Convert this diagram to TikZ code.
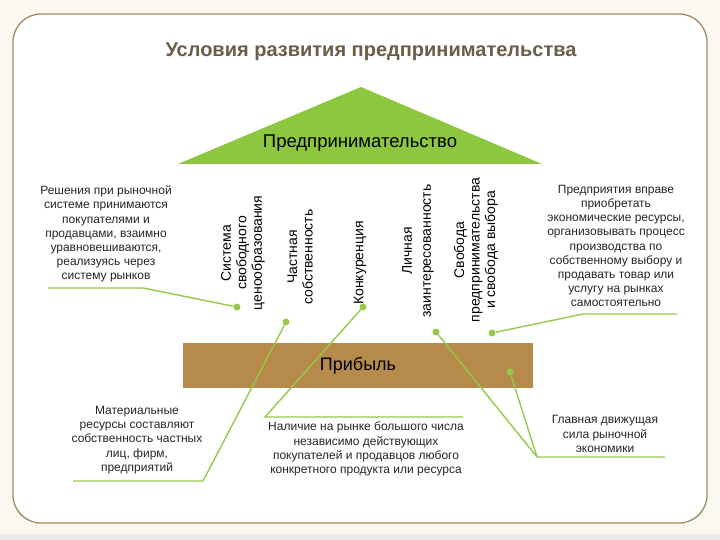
\documentclass[tikz,border=0pt]{standalone}
\usepackage{fontspec}
\setmainfont{Liberation Sans}
\usetikzlibrary{positioning}

\definecolor{leafgreen}{HTML}{8DC63F}
\definecolor{linegreen}{HTML}{96C94A}
\definecolor{barbrown}{HTML}{B58A4B}
\definecolor{framebrown}{HTML}{A08860}
\definecolor{titlegray}{HTML}{6B5D48}
\definecolor{cream}{HTML}{FCF8EF}

\begin{document}
\begin{tikzpicture}[
  x=1pt, y=-1pt,
  note/.style={align=center, inner sep=0pt, text=black!85, font=\fontsize{12}{14.2}\selectfont},
  vlab/.style={rotate=90, align=center, inner sep=0pt, font=\fontsize{14}{15.5}\selectfont},
  dot/.style={circle, fill=linegreen, inner sep=0pt, minimum size=7pt},
  conn/.style={linegreen, line width=1.4pt}
]

% page and frame
\fill[cream] (0,0) rectangle (720,540);
\fill[black!8] (0,534) rectangle (720,540);
\draw[framebrown, line width=1.3pt, rounded corners=28pt, fill=white] (13,14) rectangle (707,523);

\node[font=\fontsize{20}{22}\selectfont\bfseries, text=titlegray] (title) at (371,52) {Условия развития предпринимательства};

% roof
\coordinate (apex) at (361,87);
\coordinate (roofR) at (542,164);
\coordinate (roofL) at (178,164);
\fill[leafgreen] (apex) -- (roofR) -- (roofL) -- cycle;
\node[font=\fontsize{18.5}{20}\selectfont] (entre) at (360,143) {Предпринимательство};

% base
\node[fill=barbrown, minimum width=350pt, minimum height=45pt, inner sep=0pt,
  font=\fontsize{18}{20}\selectfont] (profit) at (358,365.5) {Прибыль};

% pillars
\node[vlab] (sys) at (243,253) {Система\\свободного\\ценообразования};
\node[vlab] (priv) at (300,257) {Частная\\собственность};
\node[vlab] (comp) at (360,263) {Конкуренция};
\node[vlab, font=\fontsize{14}{19}\selectfont] (pers) at (418,251) {Личная\\заинтересованность};
\node[vlab] (free) at (476,250) {Свобода\\предпринимательства\\и свобода выбора};

% notes
\node[note] (decide) at (106,234) {Решения при рыночной\\системе принимаются\\покупателями и\\продавцами, взаимно\\уравновешиваются,\\реализуясь через\\систему рынков};
\node[note] (firms) at (616,246) {Предприятия вправе\\приобретать\\экономические ресурсы,\\организовывать процесс\\производства по\\собственному выбору и\\продавать товар или\\услугу на рынках\\самостоятельно};
\node[note] (assets) at (137,440) {Материальные\\ресурсы составляют\\собственность частных\\лиц, фирм,\\предприятий};
\node[note] (market) at (366,449) {Наличие на рынке большого числа\\независимо действующих\\покупателей и продавцов любого\\конкретного продукта или ресурса};
\node[note] (force) at (605,434) {Главная движущая\\сила рыночной\\экономики};

% dots
\node[dot] (dSys) at (237,307) {};
\node[dot] (dPriv) at (286,322) {};
\node[dot] (dComp) at (363,307) {};
\node[dot] (dPers) at (436,332) {};
\node[dot] (dFree) at (492,333) {};
\node[dot] (dProfit) at (510,372) {};

% leader lines
\coordinate (uDecA) at (48,288);
\coordinate (uDecB) at (143,288);
\coordinate (uAssA) at (73,481);
\coordinate (uAssB) at (203,481);
\coordinate (uMktA) at (265,417);
\coordinate (uMktB) at (463,417);
\coordinate (uForA) at (537,457);
\coordinate (uForB) at (665,457);
\coordinate (uFirA) at (583,314);
\coordinate (uFirB) at (677,314);

\draw[conn] (uDecA) -- (uDecB) -- (dSys);
\draw[conn] (dPriv) -- (uAssB) -- (uAssA);
\draw[conn] (dComp) -- (uMktA) -- (uMktB);
\draw[conn] (dPers) -- (uForA) -- (uForB);
\draw[conn] (dProfit) -- (uForA);
\draw[conn] (dFree) -- (uFirA) -- (uFirB);

\end{tikzpicture}
\end{document}
